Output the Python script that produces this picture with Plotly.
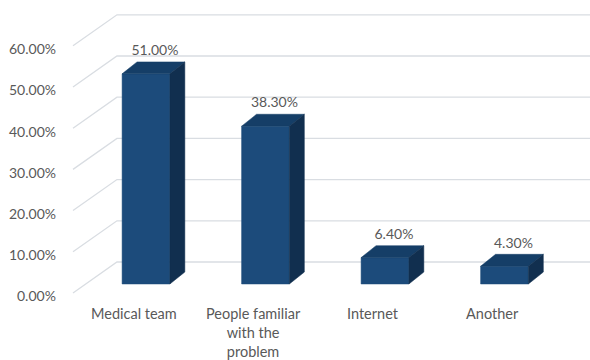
import plotly.graph_objects as go

# Data
categories = ["Medical team", "People familiar<br>with the<br>problem", "Internet", "Another"]
values = [51.00, 38.30, 6.40, 4.30]
tick_values = [0, 10, 20, 30, 40, 50, 60]
tick_labels = ["0.00%", "10.00%", "20.00%", "30.00%", "40.00%", "50.00%", "60.00%"]

# Pseudo-3D geometry (in data units)
BAR_W = 0.40          # front-face width of a bar
DEPTH_X = 0.125       # oblique depth shift, x
DEPTH_Y = 2.9         # oblique depth shift, y
FLOOR_FRONT_X = -0.611
FLOOR_BACK_X = -0.243
FLOOR_FRONT_Y = -2.18
FLOOR_BACK_Y = 5.34
RIGHT_X = 3.72

FRONT = "#1c4b7b"
TOP = "#153e67"
SIDE = "#112f4f"
GRID = "#d9dde2"
TEXT = "#595959"
FONT = "Lato"

fig = go.Figure()

# Back wall gridlines with their floor-level diagonal lead-ins
for v in tick_values:
    fig.add_trace(go.Scatter(
        x=[FLOOR_FRONT_X, FLOOR_BACK_X, RIGHT_X],
        y=[v + FLOOR_FRONT_Y, v + FLOOR_BACK_Y, v + FLOOR_BACK_Y],
        mode="lines", line=dict(color=GRID, width=1.3),
        hoverinfo="skip", showlegend=False))

# Boxes
for i, v in enumerate(values):
    l, r = i - BAR_W / 2, i + BAR_W / 2
    faces = [
        ([l, r, r, l, l], [0, 0, v, v, 0], FRONT),
        ([l, r, r + DEPTH_X, l + DEPTH_X, l], [v, v, v + DEPTH_Y, v + DEPTH_Y, v], TOP),
        ([r, r + DEPTH_X, r + DEPTH_X, r, r], [0, DEPTH_Y, v + DEPTH_Y, v, 0], SIDE),
    ]
    for xs, ys, col in faces:
        fig.add_trace(go.Scatter(
            x=xs, y=ys, mode="lines", fill="toself", fillcolor=col,
            line=dict(color=col, width=0.5),
            hoverinfo="skip", showlegend=False))

# Value labels above each box
fig.add_trace(go.Scatter(
    x=[i + 0.075 for i in range(len(values))],
    y=[v + DEPTH_Y + 2.5 for v in values],
    mode="text", text=[f"{v:.2f}%" for v in values],
    textposition="middle center",
    textfont=dict(family=FONT, size=14, color=TEXT),
    hoverinfo="skip", showlegend=False))

# Y tick labels at the front edge of the floor
for v, lab in zip(tick_values, tick_labels):
    fig.add_annotation(x=-0.736, y=v + FLOOR_FRONT_Y - 0.7, text=lab,
                       xanchor="right", yanchor="middle", showarrow=False,
                       font=dict(family=FONT, size=14, color=TEXT))

# Category labels
for i, c in enumerate(categories):
    fig.add_annotation(x=i - 0.1, y=-4.5, text=c, xanchor="center",
                       yanchor="top", showarrow=False, align="center",
                       font=dict(family=FONT, size=14.5, color=TEXT))

fig.update_layout(
    width=590, height=360,
    margin=dict(l=0, r=0, t=0, b=0),
    paper_bgcolor="white", plot_bgcolor="white",
    xaxis=dict(range=[-1.2218, 3.7155], visible=False, fixedrange=True),
    yaxis=dict(range=[-18.45, 68.93], visible=False, fixedrange=True),
)

fig.write_html("out.html")
